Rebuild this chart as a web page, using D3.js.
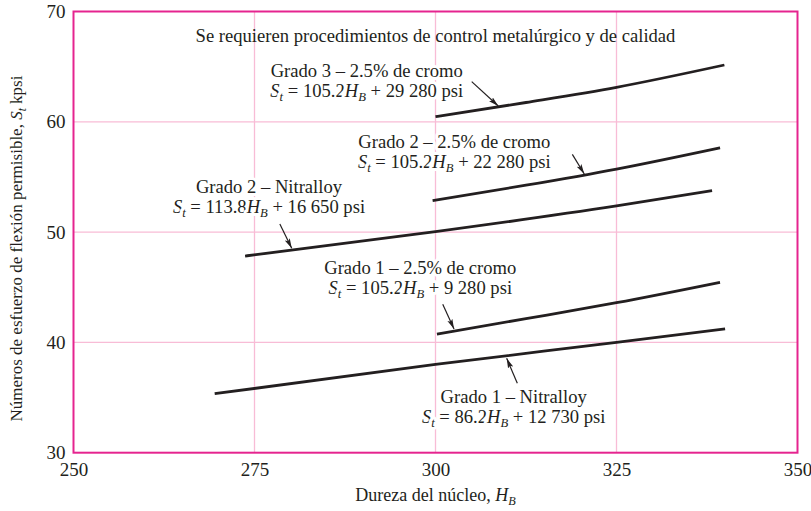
<!DOCTYPE html>
<html>
<head>
<meta charset="utf-8">
<script src="https://cdn.jsdelivr.net/npm/d3@7"></script>
<style>
  html, body { margin: 0; padding: 0; background: #fff; }
  svg { display: block; }
  text { font-family: "Liberation Serif", "Times New Roman", serif; fill: #231f20; }
</style>
</head>
<body>
<div id="chart"></div>
<script>
// ---------- data ----------
const xTicks = [250, 275, 300, 325, 350];
const yTicks = [30, 40, 50, 60, 70];

// Curves (hardness H_B, allowable stress S_t in kpsi)
const grade3CrH = [300.0, 312.5, 325, 339.9];
const grade3CrS = [60.46, 61.75, 63.13, 65.15];

const grade2CrH = [299.6, 312.5, 325, 339.3];
const grade2CrS = [52.85, 54.25, 55.72, 57.65];

const grade2NiH = [273.7, 300, 325, 338.2];
const grade2NiS = [47.83, 50.04, 52.37, 53.75];

const grade1CrH = [300.2, 312.5, 325, 339.3];
const grade1CrS = [40.76, 42.15, 43.6, 45.45];

const grade1NiH = [269.5, 300, 325, 340];
const grade1NiS = [35.35, 38.0, 40.0, 41.22];

const noteText = "Se requieren procedimientos de control metalúrgico y de calidad";
const xTitle = "Dureza del núcleo, ";
const yTitle = "Números de esfuerzo de flexión permisible, ";

// Annotation labels
const labelTitles = ["Grado 3 – 2.5% de cromo", "Grado 2 – 2.5% de cromo", "Grado 2 – Nitralloy", "Grado 1 – 2.5% de cromo", "Grado 1 – Nitralloy"];
const labelCoefs = ["105.2", "105.2", "113.8", "105.2", "86.2"];
const labelConsts = ["29 280", "22 280", "16 650", "9 280", "12 730"];
// label anchor (centre of first line baseline) in data units
const labelH = [290.5, 302.6, 277.0, 297.9, 310.8];
const labelS = [64.09, 57.65, 53.52, 46.17, 34.48];
// arrows: start and tip in data units
const arrowH0 = [305.0, 318.9, 278.5, 301.0, 311.3];
const arrowS0 = [63.64, 57.05, 50.73, 43.45, 36.29];
const arrowH1 = [308.67, 320.55, 280.14, 302.56, 309.83];
const arrowS1 = [61.43, 55.27, 48.53, 41.21, 38.56];

// ---------- layout ----------
const W = 811, H = 511;
const margin = { left: 73.5, top: 11.5, right: 13.5, bottom: 58.3 };
const frameColor = "#e5248f";
const gridColor = "#f8bcd6";
const ink = "#231f20";
const fs = 18.6;

const svg = d3.select("#chart").append("svg").attr("width", W).attr("height", H);

const x = d3.scaleLinear().domain([250, 350]).range([margin.left, W - margin.right]);
const y = d3.scaleLinear().domain([30, 70]).range([H - margin.bottom, margin.top]);

// grid
svg.append("g").selectAll("line").data(xTicks.slice(1, -1)).join("line")
  .attr("x1", d => x(d)).attr("x2", d => x(d))
  .attr("y1", y(30)).attr("y2", y(70))
  .attr("stroke", gridColor).attr("stroke-width", 1.3);
svg.append("g").selectAll("line").data(yTicks.slice(1, -1)).join("line")
  .attr("x1", x(250)).attr("x2", x(350))
  .attr("y1", d => y(d)).attr("y2", d => y(d))
  .attr("stroke", gridColor).attr("stroke-width", 1.3);

// tick labels via axes (no tick marks, no domain)
const xAxis = svg.append("g").attr("transform", `translate(0,${y(30)})`)
  .call(d3.axisBottom(x).tickValues(xTicks).tickSize(0).tickPadding(10).tickFormat(d3.format("d")));
const yAxis = svg.append("g").attr("transform", `translate(${x(250)},0)`)
  .call(d3.axisLeft(y).tickValues(yTicks).tickSize(0).tickPadding(8).tickFormat(d3.format("d")));
[xAxis, yAxis].forEach(a => {
  a.select(".domain").remove();
  a.selectAll("text").attr("font-family", "Liberation Serif, serif").attr("font-size", 19).attr("fill", ink);
});

// note text
svg.append("text").attr("x", x(300)).attr("y", 41.7)
  .attr("text-anchor", "middle").attr("font-size", fs).text(noteText);

// rich text helper
function rich(sel, parts, size) {
  parts.forEach(p => {
    const t = sel.append("tspan").text(p.t);
    if (p.i) t.attr("font-style", "italic");
    if (p.sub) t.attr("font-size", size * 0.68).attr("dy", 4);
    if (p.up) t.attr("dy", -4);
  });
}

// curves
const line = d3.line().x(d => x(d[0])).y(d => y(d[1])).curve(d3.curveMonotoneX);
const curves = [
  [grade3CrH, grade3CrS], [grade2CrH, grade2CrS], [grade2NiH, grade2NiS],
  [grade1CrH, grade1CrS], [grade1NiH, grade1NiS]
];
svg.append("g").selectAll("path").data(curves).join("path")
  .attr("d", c => line(c[0].map((h, i) => [h, c[1][i]])))
  .attr("fill", "none").attr("stroke", ink).attr("stroke-width", 2.8).attr("stroke-linecap", "butt");

// labels with white halo
labelTitles.forEach((title, i) => {
  const g = svg.append("g");
  const cx = x(labelH[i]), cy = y(labelS[i]);
  g.append("text").attr("x", cx).attr("y", cy).attr("text-anchor", "middle").attr("font-size", fs)
    .attr("stroke", "#fff").attr("stroke-width", 6).attr("paint-order", "stroke").attr("stroke-linejoin", "round")
    .text(title);
  const f = g.append("text").attr("x", cx).attr("y", cy + 20).attr("text-anchor", "middle").attr("font-size", fs)
    .attr("stroke", "#fff").attr("stroke-width", 6).attr("paint-order", "stroke").attr("stroke-linejoin", "round");
  rich(f, [
    { t: "S", i: true }, { t: "t", i: true, sub: true }, { t: " = " + labelCoefs[i], up: true },
    { t: "H", i: true }, { t: "B", i: true, sub: true }, { t: " + " + labelConsts[i] + " psi", up: true }
  ], fs);
});

// arrows
const defs = svg.append("defs");
defs.append("marker").attr("id", "ah").attr("viewBox", "0 0 10 6")
  .attr("refX", 10).attr("refY", 3).attr("markerWidth", 10).attr("markerHeight", 6)
  .attr("markerUnits", "userSpaceOnUse").attr("orient", "auto")
  .append("path").attr("d", "M0,0.3 L10,3 L0,5.7 L2,3 Z").attr("fill", ink);
arrowH0.forEach((h, i) => {
  svg.append("line")
    .attr("x1", x(h)).attr("y1", y(arrowS0[i]))
    .attr("x2", x(arrowH1[i])).attr("y2", y(arrowS1[i]))
    .attr("stroke", ink).attr("stroke-width", 1.2).attr("marker-end", "url(#ah)");
});

// frame
svg.append("rect").attr("x", x(250)).attr("y", y(70))
  .attr("width", x(350) - x(250)).attr("height", y(30) - y(70))
  .attr("fill", "none").attr("stroke", frameColor).attr("stroke-width", 2);

// axis titles
const xt = svg.append("text").attr("x", x(300)).attr("y", 501).attr("text-anchor", "middle").attr("font-size", 18);
rich(xt, [{ t: xTitle }, { t: "H", i: true }, { t: "B", i: true, sub: true }], 18);

const yt = svg.append("text").attr("transform", `translate(21.5,421.5) rotate(-90)`)
  .attr("text-anchor", "start").attr("font-size", 17);
rich(yt, [{ t: yTitle }, { t: "S", i: true }, { t: "t", i: true, sub: true }, { t: " kpsi", up: true }], 17);
</script>
</body>
</html>
